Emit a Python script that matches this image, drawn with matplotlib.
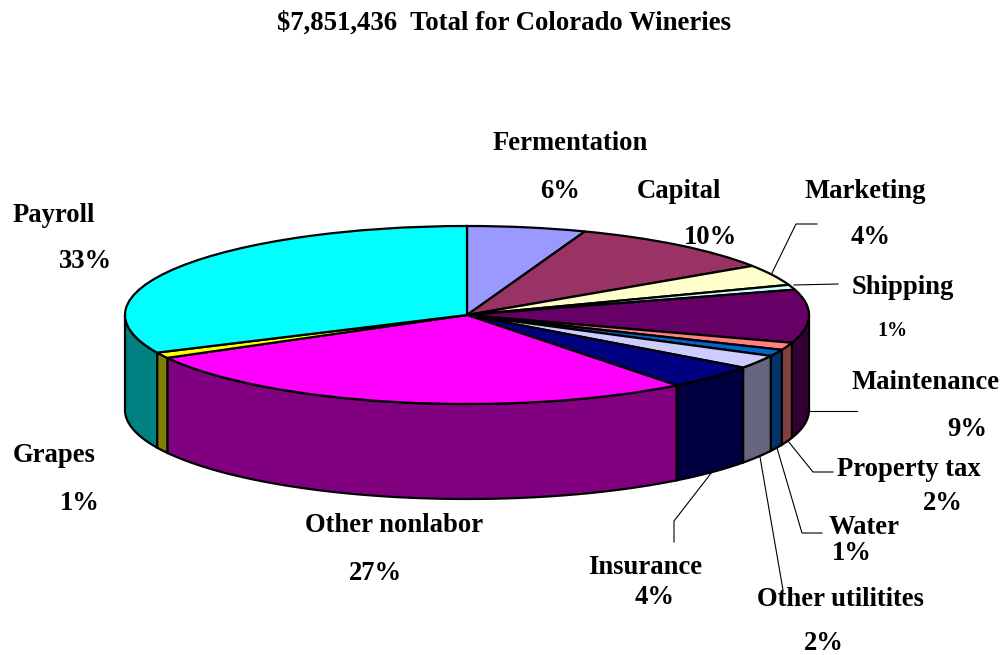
import numpy as np
import matplotlib
matplotlib.use("Agg")
import matplotlib.pyplot as plt
from matplotlib.colors import to_rgb

W, H = 1002, 655

# shares, clockwise from 12 o'clock
names = ["Fermentation", "Capital", "Marketing", "Shipping", "Maintenance", "Property tax",
         "Water", "Other utilitites", "Insurance", "Other nonlabor", "Grapes", "Payroll"]
shares = [5.6, 10.1, 3.8, 0.9, 9.65, 1.35, 1.2, 2.45, 4.45, 27.5, 1.05, 31.95]
percent_labels = ["6%", "10%", "4%", "1%", "9%", "2%", "1%", "2%", "4%", "27%", "1%", "33%"]
colors = ["#9999FF", "#993366", "#FFFFCC", "#CCFFFF", "#660066", "#FF8080",
          "#0066CC", "#CCCCFF", "#000080", "#FF00FF", "#FFFF00", "#00FFFF"]
title = "$7,851,436  Total for Colorado Wineries"

# pie geometry in pixels
cx, cy, rx, ry, depth = 467, 315, 342, 89, 95

plt.rcParams["font.family"] = ["Liberation Serif", "DejaVu Serif"]
plt.rcParams["font.weight"] = "bold"

fig = plt.figure(figsize=(W / 100, H / 100), dpi=100)
ax = fig.add_axes([0, 0, 1, 1])

ax.pie(shares, colors=colors, startangle=90, counterclock=False, radius=1,
       wedgeprops={"edgecolor": "black", "linewidth": 1.6, "zorder": 3})

# the pie is a unit circle, the limits squash it to an ellipse
ax.set_aspect("auto")
ax.set_xlim(-cx / rx, (W - cx) / rx)
ax.set_ylim(-(H - cy) / ry, cy / ry)
ax.axis("off")

# front wall, only the part of each slice between 3 and 9 o'clock
drop = depth / ry
edges = np.cumsum([0] + shares) / sum(shares) * 2 * np.pi
for i in range(len(shares)):
    a = max(edges[i], np.pi / 2)
    b = min(edges[i + 1], 3 * np.pi / 2)
    if b <= a:
        continue
    t = np.linspace(a, b, 80)
    xs = np.concatenate([np.sin(t), np.sin(t[::-1])])
    ys = np.concatenate([np.cos(t), np.cos(t[::-1]) - drop])
    dark = [c / 2 for c in to_rgb(colors[i])]
    ax.fill(xs, ys, facecolor=dark, edgecolor="black", linewidth=1.6, zorder=2)

# text positions in pixels
def put(x, y, s, size=19.2):
    fig.text(x / W, 1 - y / H, s, ha="center", va="center", fontsize=size, fontweight="bold")

name_pos = [(570, 143), (679, 191), (865, 191), (903, 287), (926, 383), (909, 469),
            (864, 527), (840, 599), (645, 568), (394, 525), (54, 455), (54, 215)]
pct_pos = [(560, 191), (711, 238), (871, 238), (892, 331), (967, 430), (943, 504),
           (852, 554), (824, 644), (655, 598), (375, 574), (80, 503), (86, 262)]

put(504, 23, title, size=19.3)
for i in range(len(names)):
    put(*name_pos[i], names[i])
    put(*pct_pos[i], percent_labels[i], size=14.5 if names[i] == "Shipping" else 19.2)

# leader lines
leaders = [
    [(772, 273), (796, 224), (817, 224)],
    [(794, 285), (838, 284)],
    [(809, 411), (857, 411)],
    [(788, 441), (813, 472), (833, 472)],
    [(777, 448), (802, 533), (822, 533)],
    [(760, 457), (783, 590)],
    [(712, 472), (674, 521), (674, 542)],
]
for pts in leaders:
    px = [p[0] / W for p in pts]
    py = [1 - p[1] / H for p in pts]
    fig.add_artist(plt.Line2D(px, py, color="black", linewidth=0.8, transform=fig.transFigure))

fig.savefig("out.png", dpi=100)
